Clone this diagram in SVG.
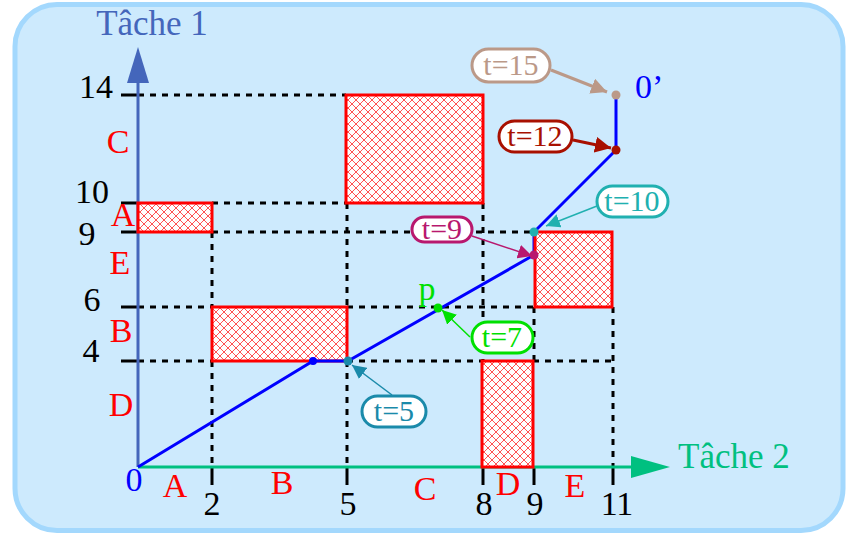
<svg xmlns="http://www.w3.org/2000/svg" width="847" height="534" viewBox="0 0 847 534">
<style>
text{font-family:"Liberation Serif","Times New Roman",serif;}
.num{font-size:34px;fill:#000;text-anchor:middle;}
.red{font-size:34px;fill:#ff0000;text-anchor:middle;}
.dash{stroke:#000;stroke-width:3;stroke-dasharray:6,6;fill:none;}
.tick{stroke:#000;stroke-width:3;}
.blk{fill:url(#hatch);stroke:#ff0000;stroke-width:3;}
.pill{fill:#fff;stroke-width:3;}
.lbl{font-size:30px;text-anchor:middle;}
</style>
<defs>
<pattern id="hatch" patternUnits="userSpaceOnUse" width="8" height="8">
<rect width="8" height="8" fill="#ffffff"/>
<path d="M0,0L8,8M8,0L0,8" stroke="#ff4040" stroke-width="0.9"/>
</pattern>
<marker id="mk" viewBox="0 0 10 10" refX="10" refY="5" markerWidth="14" markerHeight="14" markerUnits="userSpaceOnUse" orient="auto">
<path d="M0,0L10,5L0,10z" fill="context-stroke"/>
</marker>
<marker id="mks" viewBox="0 0 10 10" refX="10" refY="5" markerWidth="16" markerHeight="16" markerUnits="userSpaceOnUse" orient="auto">
<path d="M0,0L10,5L0,10z" fill="context-stroke"/>
</marker>
</defs>
<rect id="bg" x="15" y="4.5" width="828" height="526" rx="42" fill="#cdeafd" stroke="#a3d8fd" stroke-width="5"/>

<g id="grid">
<path class="dash" d="M138,95H346 M212,203H346 M212,232H534 M138,307H212 M347,307H534 M138,361H212 M347,361H482 M533,361H613"/>
<path class="dash" d="M212,232V307 M212,361V467 M347,203V307 M347,361V467 M483,203V361 M534,307V361 M613,307V467"/>
<path class="tick" d="M121,95H138 M121,203H138 M121,232H138 M121,307H138 M121,361H138"/>
<path class="tick" d="M212,467V485 M347,467V485 M483,467V485 M534,467V485 M613,467V485"/>
</g>

<g id="axis-y">
<line x1="138" y1="467" x2="138" y2="80" stroke="#4466bb" stroke-width="3"/>
<path d="M138,47L149,83H127z" fill="#4466bb"/>
<text x="152" y="35" font-size="35" fill="#4466bb" text-anchor="middle">Tâche 1</text>
</g>
<g id="axis-x">
<line x1="138" y1="467" x2="635" y2="467" stroke="#00c080" stroke-width="3"/>
<path d="M670,467L631,456V478z" fill="#00c080"/>
<text x="678" y="468" font-size="35" fill="#00c080">Tâche 2</text>
</g>

<g id="block-A"><rect class="blk" x="138" y="203" width="74" height="29"/></g>
<g id="block-B"><rect class="blk" x="212" y="307" width="135" height="54"/></g>
<g id="block-C"><rect class="blk" x="346" y="95" width="137" height="108"/></g>
<g id="block-D"><rect class="blk" x="482" y="361" width="51" height="106"/></g>

<g id="path">
<polyline points="138,467 313,361 348,361 534,255 534,232 616,150 616,95" fill="none" stroke="#0000ff" stroke-width="3"/>
</g>
<g id="block-E"><rect class="blk" x="535" y="232" width="77" height="75"/></g>

<g id="labels">
<text class="num" x="96" y="98">14</text>
<text class="num" x="92" y="203">10</text>
<text class="num" x="87" y="245">9</text>
<text class="num" x="92" y="311">6</text>
<text class="num" x="91" y="362">4</text>
<text class="red" x="118" y="153">C</text>
<text class="red" x="123" y="226">A</text>
<text class="red" x="120" y="274">E</text>
<text class="red" x="121" y="342">B</text>
<text class="red" x="121" y="416">D</text>
<text x="134" y="491" font-size="34" fill="#0000ff" text-anchor="middle">0</text>
<text class="num" x="212" y="515">2</text>
<text class="num" x="348" y="515">5</text>
<text class="num" x="484" y="515">8</text>
<text class="num" x="535" y="515">9</text>
<text class="num" x="617" y="515">11</text>
<text class="red" x="175" y="497">A</text>
<text class="red" x="282" y="494">B</text>
<text class="red" x="425" y="500">C</text>
<text class="red" x="508" y="495">D</text>
<text class="red" x="575" y="497">E</text>
<text x="427" y="300" font-size="34" fill="#00e000" text-anchor="middle">p</text>
<text x="635" y="98" font-size="34" fill="#0000ff">0’</text>
</g>

<g id="points">
<circle cx="313" cy="361" r="4" fill="#0000ff"/>
<circle cx="348" cy="361" r="4.5" fill="#1a8aaa"/>
<circle cx="438" cy="308" r="4.5" fill="#00e000"/>
<circle cx="534" cy="255" r="4.5" fill="#b8186e"/>
<circle cx="534" cy="232" r="4.5" fill="#20b0b0"/>
<circle cx="616" cy="150" r="4.5" fill="#a81000"/>
<circle cx="616" cy="95" r="4.5" fill="#bb9988"/>
</g>

<g id="connectors">
<line x1="392" y1="395" x2="352" y2="365" stroke="#1a8aaa" stroke-width="1.5" marker-end="url(#mk)"/>
<line x1="470" y1="337" x2="442" y2="310" stroke="#00e000" stroke-width="1.5" marker-end="url(#mk)"/>
<line x1="472" y1="236" x2="532" y2="256" stroke="#b8186e" stroke-width="1.5" marker-end="url(#mk)"/>
<line x1="597" y1="206" x2="546" y2="226" stroke="#20b0b0" stroke-width="1.5" marker-end="url(#mk)"/>
<line x1="573" y1="140" x2="611" y2="148" stroke="#a81000" stroke-width="3" marker-end="url(#mks)"/>
<line x1="551" y1="70" x2="607" y2="92" stroke="#bb9988" stroke-width="3" marker-end="url(#mks)"/>
</g>

<g id="callout-t5"><rect class="pill" x="362" y="396" width="64" height="31" rx="15.5" stroke="#1a8aaa"/><text class="lbl" x="394" y="421" fill="#1a8aaa">t=5</text></g>
<g id="callout-t7"><rect class="pill" x="472" y="322" width="61" height="31" rx="15.5" stroke="#00e000"/><text class="lbl" x="502" y="347" fill="#00e000">t=7</text></g>
<g id="callout-t9"><rect class="pill" x="412" y="217" width="60" height="25" rx="12.5" stroke="#b8186e"/><text class="lbl" x="442" y="239" fill="#b8186e">t=9</text></g>
<g id="callout-t10"><rect class="pill" x="597" y="186" width="71" height="31" rx="15.5" stroke="#20b0b0"/><text class="lbl" x="632" y="211" fill="#20b0b0">t=10</text></g>
<g id="callout-t12"><rect class="pill" x="499" y="121" width="73" height="31" rx="15.5" stroke="#a81000"/><text class="lbl" x="535" y="146" fill="#a81000">t=12</text></g>
<g id="callout-t15"><rect class="pill" x="472" y="49" width="78" height="33" rx="16.5" stroke="#bb9988"/><text class="lbl" x="511" y="75" fill="#bb9988">t=15</text></g>
</svg>
